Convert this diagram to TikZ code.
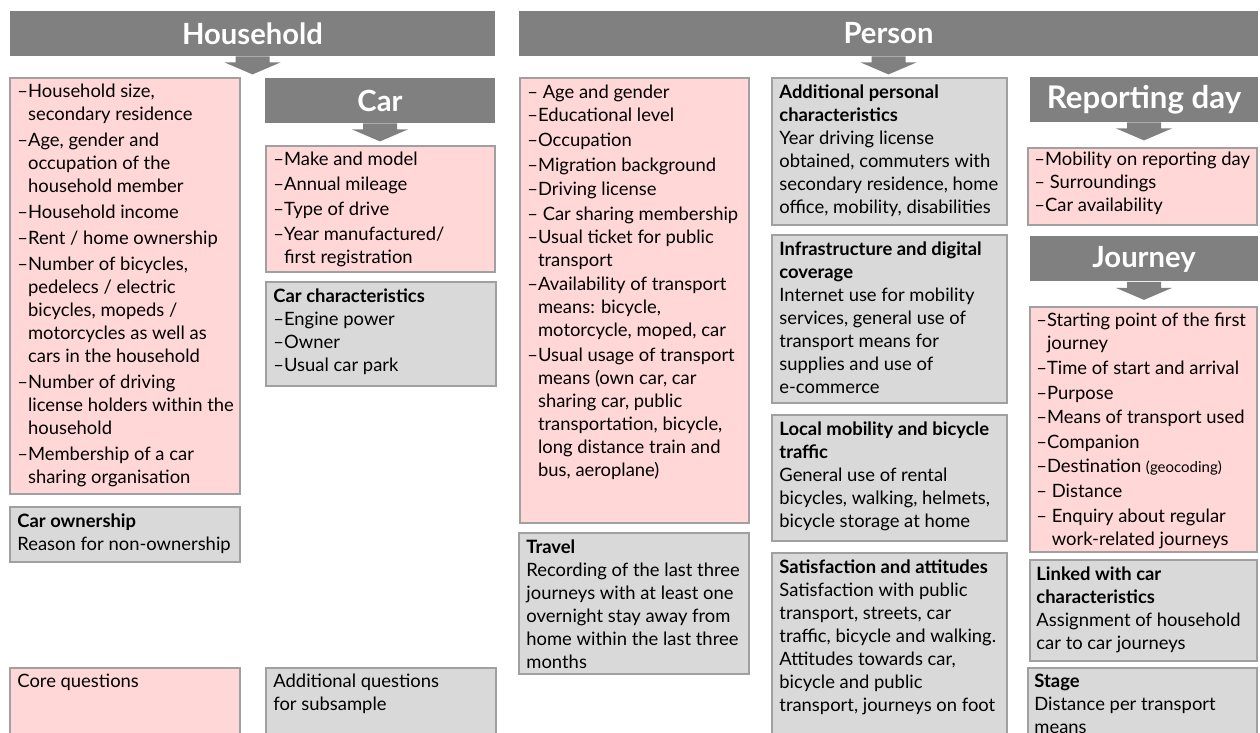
\documentclass[tikz,border=0pt]{standalone}
\usepackage{fontspec}
\setmainfont{Lato}
\definecolor{hdrgray}{RGB}{128,128,128}
\definecolor{corepink}{RGB}{255,215,215}
\definecolor{extragray}{RGB}{217,217,217}
\definecolor{edgegray}{RGB}{160,160,160}
\newcommand{\cind}{\hphantom{–}}
\tikzset{
  hdr/.style={fill=hdrgray, text=white, inner sep=0pt, minimum height=22.5pt,
    font=\fontsize{14.6}{18}\selectfont\bfseries},
  core/.style={fill=corepink, draw=edgegray, line width=0.6pt},
  extra/.style={fill=extragray, draw=edgegray, line width=0.6pt},
  txt/.style={anchor=north west, align=left, inner sep=0pt,
    font=\fontsize{9.2}{11.5}\selectfont},
  down arrow/.pic={
    \fill[hdrgray] (-8.5pt,0) -- (8.5pt,0) -- (8.5pt,-3pt) -- (14pt,-3pt)
      -- (0,-9pt) -- (-14pt,-3pt) -- (-8.5pt,-3pt) -- cycle;
  }
}
\begin{document}
\begin{tikzpicture}[x=0.5pt, y=-0.5pt]
    \useasboundingbox (0,0) rectangle (1260,733);
    % headers
    \node[hdr, minimum width=242.5pt] (household) at (252.5,33.5) {Household};
    \node[hdr, minimum width=369.5pt] (person) at (888.5,33.5) {Person};
    \node[hdr, minimum width=115pt] (car) at (380,100.5) {Car};
    \node[hdr, minimum width=114pt, font=\fontsize{15.6}{18}\selectfont\bfseries] (repday) at (1144,99.5) {Reporting day};
    \node[hdr, minimum width=114pt] (journey) at (1144,259) {Journey};
    \pic at (household.south) {down arrow};
    \pic at (person.south) {down arrow};
    \pic at (car.south) {down arrow};
    \pic at (repday.south) {down arrow};
    \pic at (journey.south) {down arrow};
    % household
    \draw[core] (10,78) rectangle (240,494);
    \node[txt] (hhitems) at (17,84) {–Household size,\\ \cind secondary residence\\[1.5pt]
      –Age, gender and\\ \cind occupation of the\\ \cind household member\\[1.5pt]
      –Household income\\[1.5pt] –Rent / home ownership\\[1.5pt]
      –Number of bicycles,\\ \cind pedelecs / electric\\ \cind bicycles, mopeds /\\
      \cind motorcycles as well as\\ \cind cars in the household\\[1.5pt]
      –Number of driving\\ \cind license holders within the\\ \cind household\\[1.5pt]
      –Membership of a car\\ \cind sharing organisation};
    \draw[extra] (10,507) rectangle (240,562);
    \node[txt] (carown) at (17,513) {\textbf{Car ownership}\\ Reason for non-ownership};
    \draw[core] (10,668) rectangle (240,745);
    \node[txt] (corekey) at (17,674) {Core questions};
    \draw[extra] (266,668) rectangle (496,745);
    \node[txt] (extrakey) at (273,674) {Additional questions\\ for subsample};
    % car
    \draw[core] (266,146) rectangle (495,272);
    \node[txt] (caritems) at (273,152) {–Make and model\\[1pt] –Annual mileage\\[1pt]
      –Type of drive\\[1pt] –Year manufactured/\\ \cind first registration};
    \draw[extra] (266,282) rectangle (496,386);
    \node[txt] (carchar) at (273,288) {\textbf{Car characteristics}\\ –Engine power\\
      –Owner\\ –Usual car park};
    % person
    \draw[core] (520,78) rectangle (749,523);
    \node[txt] (personitems) at (527,85) {– Age and gender\\ –Educational level\\[0.8pt]
      –Occupation\\[0.8pt] –Migration background\\[0.8pt] –Driving license\\[0.8pt]
      – Car sharing membership\\ –Usual ticket for public\\ \cind transport\\[0.8pt]
      –Availability of transport\\ \cind means: bicycle,\\ \cind motorcycle, moped, car\\[0.8pt]
      –Usual usage of transport\\ \cind means (own car, car\\ \cind sharing car, public\\
      \cind transportation, bicycle,\\ \cind long distance train and\\ \cind bus, aeroplane)};
    \draw[extra] (519,533) rectangle (749,674);
    \node[txt] (travel) at (526,539) {\textbf{Travel}\\ Recording of the last three\\
      journeys with at least one\\ overnight stay away from\\ home within the last three\\ months};
    \draw[extra] (772,78) rectangle (1007,225);
    \node[txt] (addpers) at (779,84) {\textbf{Additional personal}\\ \textbf{characteristics}\\
      Year driving license\\ obtained, commuters with\\ secondary residence, home\\
      office, mobility, disabilities};
    \draw[extra] (772,235) rectangle (1007,403);
    \node[txt] (infra) at (779,241) {\textbf{Infrastructure and digital}\\ \textbf{coverage}\\
      Internet use for mobility\\ services, general use of\\ transport means for\\
      supplies and use of\\ e-commerce};
    \draw[extra] (772,415) rectangle (1007,541);
    \node[txt] (localmob) at (779,421) {\textbf{Local mobility and bicycle}\\ \textbf{traffic}\\
      General use of rental\\ bicycles, walking, helmets,\\ bicycle storage at home};
    \draw[extra] (772,553) rectangle (1007,745);
    \node[txt] (satisf) at (779,559) {\textbf{Satisfaction and attitudes}\\
      Satisfaction with public\\ transport, streets, car\\ traffic, bicycle and walking.\\
      Attitudes towards car,\\ bicycle and public\\ transport, journeys on foot};
    % reporting day and journey
    \draw[core] (1028,148) rectangle (1257,225);
    \node[txt] (repitems) at (1034,152) {–Mobility on reporting day\\ – Surroundings\\
      –Car availability};
    \draw[core] (1030,307) rectangle (1257,552);
    \node[txt] (jouritems) at (1036,313) {–Starting point of the first\\ \cind journey\\[0.8pt]
      –Time of start and arrival\\[0.8pt] –Purpose\\[0.8pt] –Means of transport used\\[0.8pt]
      –Companion\\[0.8pt] –Destination {\fontsize{7.5}{9}\selectfont(geocoding)}\\[0.8pt]
      – Distance\\[0.8pt] – Enquiry about regular\\ \hphantom{– }work-related journeys};
    \draw[extra] (1030,560) rectangle (1257,661);
    \node[txt] (linked) at (1036,566) {\textbf{Linked with car}\\ \textbf{characteristics}\\
      Assignment of household\\ car to car journeys};
    \draw[extra] (1028,668) rectangle (1257,745);
    \node[txt] (stage) at (1034,674) {\textbf{Stage}\\ Distance per transport\\ means};
\end{tikzpicture}
\end{document}
